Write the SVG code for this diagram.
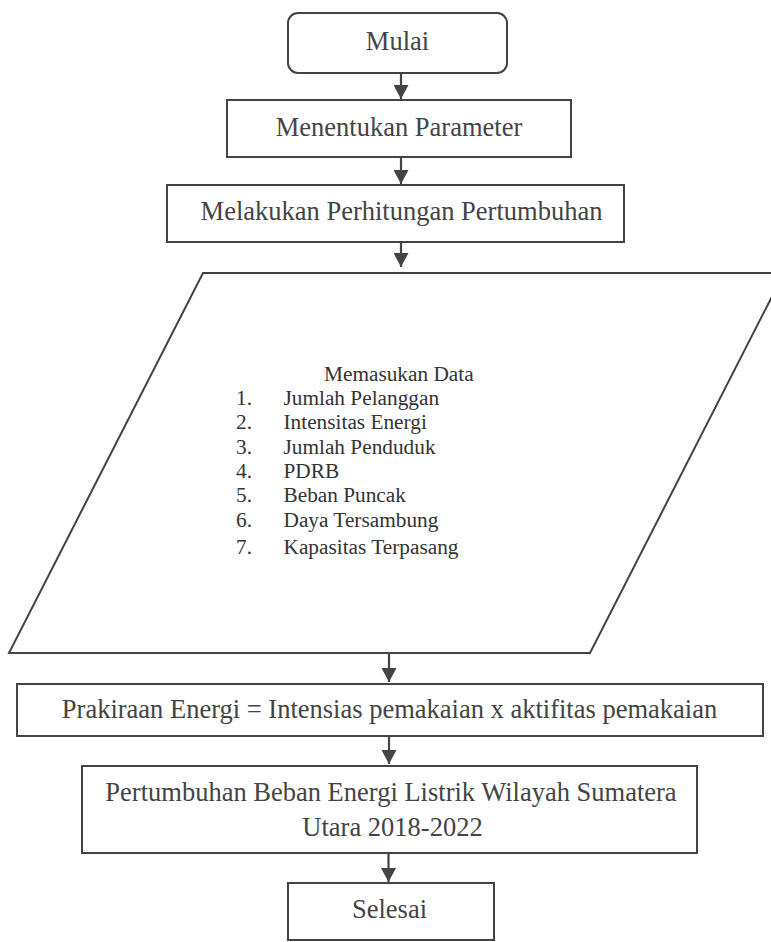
<svg xmlns="http://www.w3.org/2000/svg" width="771" height="942" viewBox="0 0 771 942">
<style>
.box{fill:#ffffff;stroke:#444444;stroke-width:2}
.t{font-family:"Liberation Serif",serif;font-size:26.5px;fill:#444444;text-anchor:middle}
.s{font-family:"Liberation Serif",serif;font-size:21.3px;fill:#333333}
.c{stroke:#444444;stroke-width:2.2;fill:none;marker-end:url(#ah)}
</style>
<defs>
<marker id="ah" markerUnits="userSpaceOnUse" markerWidth="15" markerHeight="15" refX="14" refY="7.5" orient="auto">
<path d="M0,0 L14,7.5 L0,15 z" fill="#444444"/>
</marker>
</defs>
<rect width="771" height="942" fill="#ffffff"/>
<g id="connectors">
<line class="c" x1="401" y1="73" x2="401" y2="99"/>
<line class="c" x1="401" y1="157" x2="401" y2="184"/>
<line class="c" x1="401" y1="242" x2="401" y2="267"/>
<line class="c" x1="389" y1="653" x2="389" y2="682"/>
<line class="c" x1="389" y1="736" x2="389" y2="764"/>
<line class="c" x1="388.5" y1="853" x2="388.5" y2="882"/>
</g>
<g id="mulai">
<rect class="box" x="288" y="13" width="219" height="60" rx="10" ry="10"/>
<text class="t" x="397.5" y="50">Mulai</text>
</g>
<g id="menentukan">
<rect class="box" x="227" y="100" width="344" height="57"/>
<text class="t" x="399" y="136">Menentukan Parameter</text>
</g>
<g id="melakukan">
<rect class="box" x="167" y="185" width="457" height="57"/>
<text class="t" x="401.5" y="220">Melakukan Perhitungan Pertumbuhan</text>
</g>
<g id="input">
<polygon class="box" points="203,273 784,273 590,653 9,653"/>
<text class="s" x="324" y="381">Memasukan Data</text>
<text class="s" x="236" y="405">1.</text><text class="s" x="283.5" y="405">Jumlah Pelanggan</text>
<text class="s" x="236" y="429">2.</text><text class="s" x="283.5" y="429">Intensitas Energi</text>
<text class="s" x="236" y="453.5">3.</text><text class="s" x="283.5" y="453.5">Jumlah Penduduk</text>
<text class="s" x="236" y="477.5">4.</text><text class="s" x="283.5" y="477.5">PDRB</text>
<text class="s" x="236" y="502">5.</text><text class="s" x="283.5" y="502">Beban Puncak</text>
<text class="s" x="236" y="526.5">6.</text><text class="s" x="283.5" y="526.5">Daya Tersambung</text>
<text class="s" x="236" y="554">7.</text><text class="s" x="283.5" y="554">Kapasitas Terpasang</text>
</g>
<g id="prakiraan">
<rect class="box" x="17" y="684" width="746" height="52"/>
<text class="t" x="389.5" y="718">Prakiraan Energi = Intensias pemakaian x aktifitas pemakaian</text>
</g>
<g id="pertumbuhan">
<rect class="box" x="82" y="766" width="615" height="87"/>
<text class="t" x="391" y="801">Pertumbuhan Beban Energi Listrik Wilayah Sumatera</text>
<text class="t" x="392.5" y="835.5">Utara 2018-2022</text>
</g>
<g id="selesai">
<rect class="box" x="288" y="883" width="206" height="57"/>
<text class="t" x="389.5" y="918">Selesai</text>
</g>
</svg>
